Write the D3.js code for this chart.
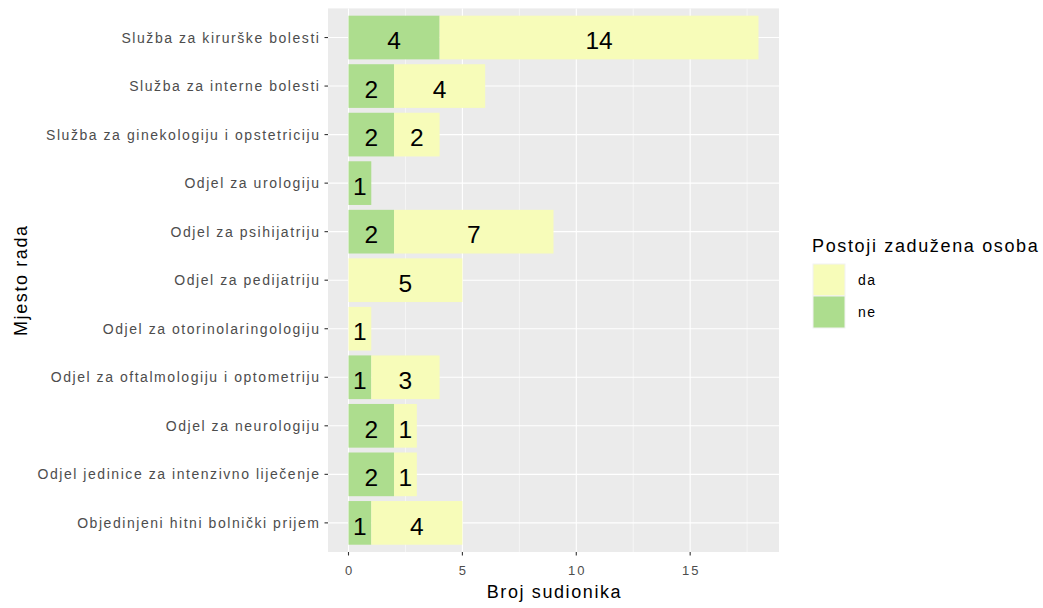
<!DOCTYPE html>
<html>
<head>
<meta charset="utf-8">
<script src="https://cdn.jsdelivr.net/npm/d3@7"></script>
<style>
  body { margin: 0; background: #fff; }
  text { font-family: "Liberation Sans", Arial, sans-serif; }
</style>
</head>
<body>
<div id="chart"></div>
<script>
var categories = [
  "Služba za kirurške bolesti",
  "Služba za interne bolesti",
  "Služba za ginekologiju i opstetriciju",
  "Odjel za urologiju",
  "Odjel za psihijatriju",
  "Odjel za pedijatriju",
  "Odjel za otorinolaringologiju",
  "Odjel za oftalmologiju i optometriju",
  "Odjel za neurologiju",
  "Odjel jedinice za intenzivno liječenje",
  "Objedinjeni hitni bolnički prijem"
];
var neValues = [4, 2, 2, 1, 2, 0, 0, 1, 2, 2, 1];
var daValues = [14, 4, 2, 0, 7, 5, 1, 3, 1, 1, 4];
var xTicks = [0, 5, 10, 15];
var seriesNames = ["da", "ne"];
var seriesColors = {da: "#f7fcb9", ne: "#addd8e"};

var width = 1043, height = 608;
var margin = {left: 328, right: 264, top: 8.4, bottom: 56};
var pw = width - margin.left - margin.right;
var ph = height - margin.top - margin.bottom;

var svg = d3.select("#chart").append("svg")
  .attr("width", width).attr("height", height);

var g = svg.append("g").attr("transform", "translate(" + margin.left + "," + margin.top + ")");

var maxTotal = d3.max(categories, function(c, i){ return neValues[i] + daValues[i]; });
var x = d3.scaleLinear().domain([-0.05 * maxTotal, maxTotal * 1.05]).range([0, pw]);

// discrete axis, 0.6 padding each end like ggplot
var n = categories.length;
var step = ph / (n - 1 + 1.2);
var y = function(i){ return step * 0.6 + i * step; };

g.append("rect").attr("width", pw).attr("height", ph).attr("fill", "#ebebeb");

// grid
var minor = [2.5, 7.5, 12.5, 17.5];
g.selectAll(".minor").data(minor).enter().append("line")
  .attr("x1", function(d){ return x(d); }).attr("x2", function(d){ return x(d); })
  .attr("y1", 0).attr("y2", ph)
  .attr("stroke", "#fff").attr("stroke-width", 0.55);
g.selectAll(".majx").data(xTicks).enter().append("line")
  .attr("x1", function(d){ return x(d); }).attr("x2", function(d){ return x(d); })
  .attr("y1", 0).attr("y2", ph)
  .attr("stroke", "#fff").attr("stroke-width", 1.1);
g.selectAll(".majy").data(categories).enter().append("line")
  .attr("x1", 0).attr("x2", pw)
  .attr("y1", function(d, i){ return y(i); }).attr("y2", function(d, i){ return y(i); })
  .attr("stroke", "#fff").attr("stroke-width", 1.1);

// stacked bars: ne first, then da
var bh = step * 0.9;
var segs = [];
categories.forEach(function(c, i){
  segs.push({i: i, key: "ne", x0: 0, x1: neValues[i], v: neValues[i]});
  segs.push({i: i, key: "da", x0: neValues[i], x1: neValues[i] + daValues[i], v: daValues[i]});
});
segs = segs.filter(function(s){ return s.v > 0; });

g.selectAll(".bar").data(segs).enter().append("rect")
  .attr("x", function(d){ return x(d.x0); })
  .attr("width", function(d){ return x(d.x1) - x(d.x0); })
  .attr("y", function(d){ return y(d.i) - bh / 2; })
  .attr("height", bh)
  .attr("fill", function(d){ return seriesColors[d.key]; });

g.selectAll(".lbl").data(segs).enter().append("text")
  .attr("x", function(d){ return x((d.x0 + d.x1) / 2); })
  .attr("y", function(d){ return y(d.i); })
  .attr("dy", "0.48em")
  .attr("text-anchor", "middle")
  .attr("font-size", 24.5)
  .attr("fill", "#000")
  .text(function(d){ return d.v; });

// y axis
g.selectAll(".yt").data(categories).enter().append("line")
  .attr("x1", -3.5).attr("x2", 0)
  .attr("y1", function(d, i){ return y(i); }).attr("y2", function(d, i){ return y(i); })
  .attr("stroke", "#333").attr("stroke-width", 1.1);
g.selectAll(".yl").data(categories).enter().append("text")
  .attr("x", -7.5).attr("y", function(d, i){ return y(i); })
  .attr("dy", "0.36em").attr("text-anchor", "end")
  .attr("font-size", 14).attr("letter-spacing", 1.55).attr("fill", "#4d4d4d")
  .text(function(d){ return d; });

// x axis
g.selectAll(".xt").data(xTicks).enter().append("line")
  .attr("x1", function(d){ return x(d); }).attr("x2", function(d){ return x(d); })
  .attr("y1", ph).attr("y2", ph + 3.5)
  .attr("stroke", "#333").attr("stroke-width", 1.1);
g.selectAll(".xl").data(xTicks).enter().append("text")
  .attr("x", function(d){ return x(d) + 1; }).attr("y", 575.5 - margin.top)
  .attr("text-anchor", "middle")
  .attr("font-size", 13).attr("letter-spacing", 2).attr("fill", "#4d4d4d")
  .text(function(d){ return d; });

// axis titles
svg.append("text")
  .attr("x", margin.left + pw / 2 + 1).attr("y", 598)
  .attr("text-anchor", "middle").attr("font-size", 18).attr("letter-spacing", 1.6).attr("fill", "#000")
  .text("Broj sudionika");
svg.append("text")
  .attr("transform", "translate(27," + (margin.top + ph / 2) + ") rotate(-90)")
  .attr("text-anchor", "middle").attr("font-size", 18).attr("letter-spacing", 1.6).attr("fill", "#000")
  .text("Mjesto rada");

// legend
var lg = svg.append("g").attr("transform", "translate(812,0)");
lg.append("text").attr("x", 0).attr("y", 252)
  .attr("font-size", 18).attr("letter-spacing", 1.65).attr("fill", "#000")
  .text("Postoji zadužena osoba");
seriesNames.forEach(function(s, k){
  lg.append("rect")
    .attr("x", 1).attr("y", 264 + k * 32)
    .attr("width", 32).attr("height", 32)
    .attr("fill", seriesColors[s]).attr("stroke", "#f2f2f2").attr("stroke-width", 1);
  lg.append("text")
    .attr("x", 46).attr("y", 264 + k * 32 + 16)
    .attr("dy", "0.36em").attr("font-size", 14).attr("letter-spacing", 1.5).attr("fill", "#000")
    .text(s);
});
</script>
</body>
</html>
